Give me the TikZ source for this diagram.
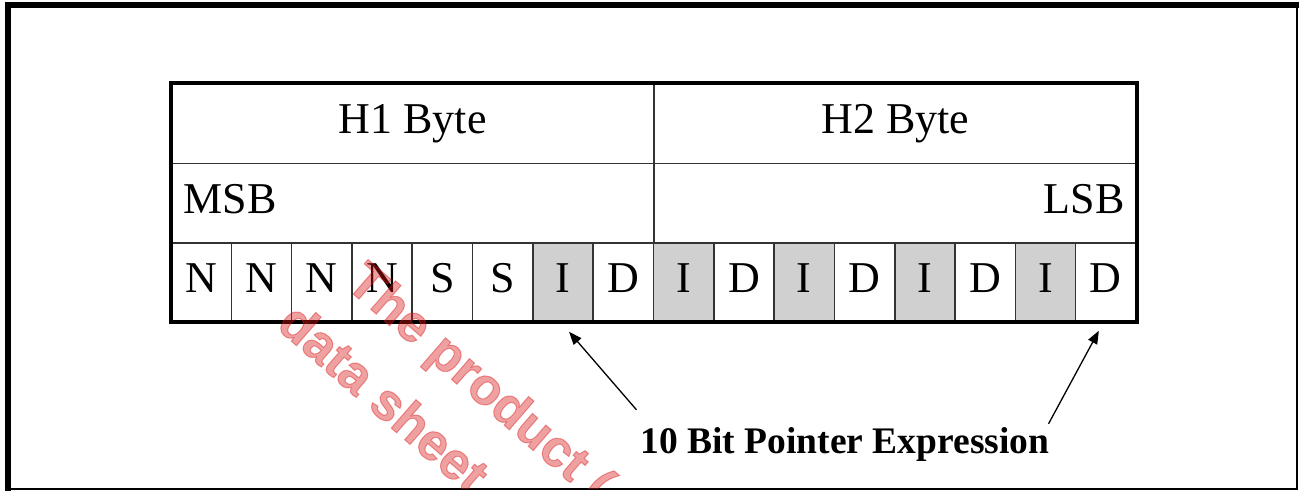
\documentclass[tikz,border=0pt]{standalone}
\usepackage{fontspec}
\setmainfont{Liberation Serif}
\newfontfamily\wmfont[BoldFeatures={FakeBold=2}]{Liberation Sans}
\usepackage{xcolor}
\usetikzlibrary{arrows.meta, positioning, calc}
\definecolor{cellgrey}{RGB}{208,208,208}
\definecolor{wmred}{RGB}{215,20,20}
\tikzset{
  bitcell/.style={rectangle, draw=black!80, line width=1.5pt, minimum width=60.3pt,
                  minimum height=78pt, inner sep=0pt, text height=30pt, text depth=10pt,
                  font=\fontsize{44}{50}\selectfont},
  greycell/.style={bitcell, fill=cellgrey},
  headcell/.style={rectangle, draw=black!80, line width=1.5pt, minimum width=482.5pt,
                   minimum height=79.5pt, inner sep=0pt, text height=30pt, text depth=10pt,
                   font=\fontsize{44}{50}\selectfont},
  sigcell/.style={headcell, inner sep=12pt, text width=458.5pt},
  tableframe/.style={draw, line width=4pt},
  ptrarrow/.style={-{Triangle[length=13pt, width=10pt]}, line width=1.3pt},
  ptrlabel/.style={font=\fontsize{37.5}{42}\selectfont\bfseries, inner sep=0pt},
  watermark/.style={text=wmred, text opacity=0.4, font=\wmfont\bfseries\fontsize{52}{56}\selectfont,
                    rotate=-41, anchor=base west, inner sep=0pt},
}

\begin{document}
\begin{tikzpicture}[x=1pt, y=-1pt]
  \useasboundingbox (0,0) rectangle (1299,491);

  % outer frame
  \draw[line width=2pt] (8,4.5) rectangle (1297,489);
  \draw[line width=6pt] (8,491) -- (8,4.5) -- (1299,4.5);

  % header rows
  \node[headcell] (h1) at (412.75,123.5) {H1 Byte};
  \node[headcell] (h2) at (895.25,123.5) {H2 Byte};
  \node[sigcell, align=left] (msb) at (412.75,203) {MSB};
  \node[sigcell, align=right] (lsb) at (895.25,203) {LSB};

  % bit cells
  \foreach \t/\s [count=\i] in {N/bitcell, N/bitcell, N/bitcell, N/bitcell,
                               S/bitcell, S/bitcell, I/greycell, D/bitcell,
                               I/greycell, D/bitcell, I/greycell, D/bitcell,
                               I/greycell, D/bitcell, I/greycell, D/bitcell}
    \node[\s] (c\i) at ({171+60.3125*(\i-0.5)},282) {\t};

  \draw[tableframe] (h1.north west) rectangle (c16.south east);

  \node[ptrlabel, anchor=base] (ptr) at (845,453) {10 Bit Pointer Expression};
  \draw[ptrarrow] ([shift={(-4,-17)}]ptr.north west) -- ([shift={(6,10)}]c7.south);
  \draw[ptrarrow] ([shift={(-1,-3)}]ptr.north east) -- ([shift={(-7,9)}]c16.south);

  % watermark, on top
  \begin{scope}
    \clip (8,4) rectangle (1297,488);
    \node[watermark] (wm1) at (344,286) {The product (};
    \node[watermark] (wm2) at (275,327) {data sheet};
  \end{scope}
\end{tikzpicture}
\end{document}
